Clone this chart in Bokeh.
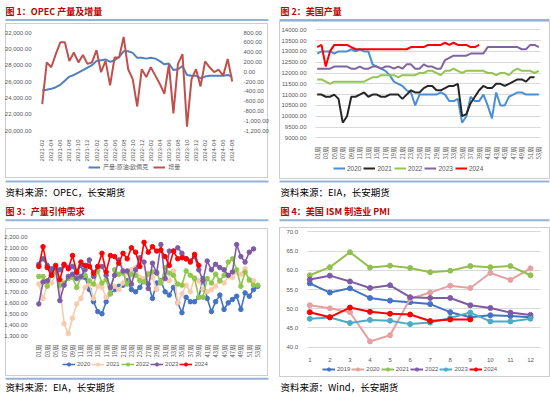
import math
from bokeh.plotting import figure
from bokeh.models import (Range1d, LinearAxis, FixedTicker, NumeralTickFormatter,
                          Label, BoxAnnotation, Legend, LegendItem, Grid)
from bokeh.layouts import column, row
from bokeh.embed import file_html
from bokeh.resources import INLINE

# ------------------------------------------------------------------ data
# Chart 1: OPEC production (left axis) and monthly change (right axis)
months = [f"{y}-{m:02d}" for y in (2021, 2022, 2023, 2024) for m in range(1, 13)][1:44]
opec_prod = [24900, 25000, 25100, 25300, 25600, 26100, 26600, 26800, 27100, 27400,
             27700, 28000, 28500, 28600, 28700, 28400, 28600, 29000, 29700, 29700,
             29500, 28900, 28900, 28800, 28900, 28800, 28500, 28100, 28200, 27400,
             27500, 27900, 26800, 26700, 26700, 26400, 26600, 26700, 26700, 26700,
             26700, 26800, 26600]
opec_inc = [-660, 190, 90, 360, 600, 600, 220, 390, 190, 340,
            160, 190, 440, -10, 220, -280, 290, 290, 710, 50,
            -150, -710, 50, -110, 90, -80, -250, -450, 150, -850,
            160, 360, -1120, -150, 50, -300, 210, 90, -10, 40,
            -80, 260, -200]

# Chart 2: US crude production by week
week_ticks = list(range(1, 54, 2))
week_labels = [f"{w:02d}周" for w in week_ticks]
us_years = ["2020", "2021", "2022", "2023", "2024"]
us_2020 = [12900, 13000, 13000, 13000, 12900, 13000, 13000, 13000, 13100, 13000,
           13100, 13000, 13000, 12400, 12300, 12200, 12100, 11900, 11600, 11500,
           11400, 11200, 11100, 10500, 11000, 11000, 11000, 11000, 11000, 11100,
           11000, 10700, 10700, 10800, 9700, 10000, 10900, 10700, 10700, 11000,
           10500, 9900, 11100, 10500, 10500, 10900, 11000, 11100, 11100, 11000,
           11000, 11000, 11000]
us_2021 = [11000, 11000, 10900, 10900, 11000, 10800, 9700, 10000, 10900, 10900,
           11000, 11100, 10900, 11000, 11000, 10900, 10900, 11000, 11000, 11000,
           10800, 11000, 11200, 11100, 11100, 11300, 11400, 11400, 11200, 11200,
           11300, 11400, 11400, 11500, 10000, 10100, 10600, 10900, 11200, 11400,
           11300, 11300, 11500, 11500, 11400, 11500, 11600, 11700, 11700, 11600,
           11800, 11800]
us_2022 = [11700, 11700, 11600, 11500, 11600, 11600, 11600, 11600, 11600, 11600,
           11600, 11600, 11700, 11800, 11800, 11900, 11900, 11900, 11900, 11800,
           11900, 11900, 11900, 11900, 12000, 12000, 12100, 12100, 12000, 11900,
           12100, 12100, 12200, 12100, 12000, 12100, 12100, 12100, 12100, 12100,
           12000, 12000, 11900, 12000, 12000, 11900, 12100, 12200, 12100, 12100,
           12100, 12000, 12100]
us_2023 = [12200, 12200, 12200, 12200, 12300, 12300, 12300, 12300, 12200, 12200,
           12300, 12200, 12200, 12300, 12300, 12200, 12300, 12300, 12200, 12300,
           12200, 12400, 12400, 12200, 12200, 12400, 12300, 12300, 12200, 12200,
           12600, 12700, 12800, 12800, 12800, 12800, 12900, 12900, 12900, 12900,
           13200, 13200, 13200, 13200, 13200, 13200, 13200, 13200, 13100, 13100,
           13300, 13300, 13200]
us_2024 = [13200, 13300, 12300, 13000, 13300, 13300, 13300, 13300, 13200, 13100,
           13100, 13100, 13100, 13100, 13100, 13100, 13100, 13100, 13100, 13100,
           13100, 13100, 13200, 13200, 13200, 13200, 13300, 13300, 13300, 13300,
           13400, 13300, 13400, 13300, 13300, 13300, 13200, 13200, 13300]

# Chart 3: implied demand by week
dm_2020 = [1950, 2000, 1940, 1910, 1880, 1900, 1940, 1920, 1930, 1870,
           1940, 1830, 1720, 1610, 1520, 1500, 1610, 1690, 1720, 1750,
           1760, 1800, 1720, 1700, 1740, 1810, 1770, 1640, 1780, 1800,
           1700, 1670, 1740, 1600, 1510, 1650, 1610, 1610, 1650, 1820,
           1640, 1520, 1610, 1670, 1540, 1600, 1630, 1660, 1540, 1690,
           1660, 1720, 1750]
dm_2021 = [1770, 1640, 1760, 1780, 1860, 1750, 1410, 1320, 1460, 1590,
           1640, 1740, 1770, 1640, 1750, 1740, 1650, 1720, 1750, 1720,
           1780, 1880, 1900, 1920, 1830, 1820, 1870, 1830, 1720, 1790,
           1830, 1800, 1890, 1600, 1680, 1760, 1700, 1830, 1800, 1720,
           1700, 1720, 1750, 1800, 1780, 1840, 1830, 1880, 1860, 1910,
           1800, 1800]
dm_2022 = [1840, 1840, 1750, 1850, 1880, 1760, 1780, 1820, 1830, 1740,
           1830, 1850, 1800, 1770, 1890, 1780, 1810, 1680, 1900, 1860,
           1870, 1770, 1860, 1850, 1800, 1790, 1860, 1880, 1880, 1780,
           1920, 1870, 1850, 1770, 1760, 1890, 1850, 1820, 1650, 1650,
           1820, 1780, 1860, 1800, 1850, 1970, 2000, 1900, 1750, 1880,
           1810, 1760, 1760]
dm_2023 = [1590, 1790, 1800, 1870, 1920, 1620, 1760, 1840, 1860, 1820,
           1840, 1900, 1990, 1840, 1930, 1930, 1850, 1740, 1850, 1990,
           1890, 1890, 1770, 1900, 2010, 1970, 1730, 1960, 1870, 2130,
           1820, 2070, 2070, 2100, 2050, 2000, 1980, 2020, 1900, 1800,
           1980, 1900, 1950, 1920, 1900, 1850, 1880, 2130, 2020, 1970,
           2060, 2090]
dm_2024 = [1930, 2110, 1920, 1850, 1940, 1810, 1950, 1910, 2030, 1880,
           1970, 1940, 1930, 1870, 1930, 2050, 1880, 2030, 2020, 1960,
           2050, 2000, 2100, 2060, 1930, 2150, 2060, 2110, 2070, 2080,
           2020, 1940, 2070, 2000, 2010, 2000, 1970, 2040, 1940]

# Chart 4: US ISM manufacturing PMI by month
pmi_months = list(range(1, 13))
pmi_2019 = [56.6, 54.2, 55.3, 52.8, 52.1, 51.7, 51.2, 49.1, 47.8, 48.3, 48.1, 47.8]
pmi_2020 = [50.9, 50.1, 49.1, 41.5, 43.1, 52.6, 54.2, 56.0, 55.4, 59.3, 57.5, 60.5]
pmi_2021 = [58.7, 60.8, 64.7, 60.7, 61.2, 60.6, 59.5, 59.9, 61.1, 60.8, 61.1, 58.7]
pmi_2022 = [57.6, 58.6, 57.1, 55.4, 56.1, 53.0, 52.8, 52.8, 50.9, 50.2, 49.0, 48.4]
pmi_2023 = [47.4, 47.7, 46.3, 47.1, 46.9, 46.0, 46.4, 47.6, 49.0, 46.7, 46.7, 47.4]
pmi_2024 = [49.1, 47.8, 50.3, 49.2, 48.7, 48.5, 46.8, 47.2, 47.2]

# ------------------------------------------------------------------ helpers
W = 275
TICK_FONT = "Liberation Sans"
CJK = "Noto Sans CJK SC"
TICK_COLOR = "#595959"
HAS_CROSS = "cross_bounds" in Grid.properties()


def style_axis(ax, font=TICK_FONT):
    ax.axis_line_color = None
    ax.major_tick_line_color = None
    ax.minor_tick_line_color = None
    ax.major_label_text_font = font
    ax.major_label_text_font_size = "6px"
    ax.major_label_text_color = TICK_COLOR
    ax.major_label_standoff = 3


def span_range(p0, p1, total, d0, d1, invert=False):
    """Extend data range [d0, d1] (placed at pixels p0..p1) to cover 0..total px."""
    k = (p1 - p0) / (d1 - d0)
    if not invert:
        return Range1d(d0 - p0 / k, d1 + (total - p1) / k)
    return Range1d(d0 - (total - p1) / k, d1 + p0 / k)


def panel(H, area, xd, yd, grid_ticks=None):
    PL, PT, PR, PB = area
    p = figure(width=W, height=H,
               x_range=span_range(PL, PR, W, *xd),
               y_range=span_range(PT, PB, H, *yd, invert=True),
               output_backend="svg", toolbar_location=None,
               min_border=0, min_border_left=0, min_border_right=0,
               min_border_top=0, min_border_bottom=0,
               outline_line_color=None, background_fill_color="white",
               border_fill_color="white")
    p.xgrid.visible = False
    p.ygrid.visible = False
    for ax in p.axis:
        style_axis(ax)
    p.yaxis.fixed_location = xd[0]
    p.xaxis.fixed_location = yd[0]
    if grid_ticks is not None:
        if HAS_CROSS:
            p.ygrid.visible = True
            p.ygrid.grid_line_color = "#D9D9D9"
            p.ygrid.cross_bounds = xd
        else:
            n = len(grid_ticks)
            p.segment(x0=[xd[0]] * n, x1=[xd[1]] * n, y0=grid_ticks, y1=grid_ticks,
                      color="#D9D9D9", line_width=1)

    def S(x, y):
        return (x, H - y)
    return p, S, PT, PB


def screen_box(S, x0, y0, x1, y1, **kw):
    left, top = S(x0, y0)
    right, bottom = S(x1, y1)
    return BoxAnnotation(left=left, right=right, top=top, bottom=bottom,
                         left_units="screen", right_units="screen",
                         top_units="screen", bottom_units="screen", **kw)


def decorate(p, S, title, source, title_y, rule1_y, box, rule2_y, src_y, rx0, rx1):
    x, y = S(5, title_y)
    p.add_layout(Label(x=x, y=y, x_units="screen", y_units="screen", text=title,
                       text_font=CJK, text_font_style="bold", text_font_size="9px",
                       text_color="#C00000", text_baseline="middle", text_align="left"))
    for ry in (rule1_y, rule2_y):
        if ry is None:
            continue
        p.add_layout(screen_box(S, rx0, ry - 1, rx1, ry + 1, fill_color="#95B3D7",
                                fill_alpha=1, line_color=None))
    bx0, by0, bx1, by1 = box
    p.add_layout(screen_box(S, bx0, by0, bx1, by1, fill_alpha=0,
                            line_color="#595959", line_width=1))
    x, y = S(5, src_y)
    p.add_layout(Label(x=x, y=y, x_units="screen", y_units="screen", text=source,
                       text_font=CJK, text_font_size="9.5px", text_color="#000000",
                       text_baseline="middle", text_align="left"))


def add_legend(p, S, items, x_ref, yc_ref, font, glyph_w, spacing, fsize="6px", standoff=2):
    lx, ly = S(x_ref, yc_ref)
    leg = Legend(items=items, location=(lx, ly - 4), orientation="horizontal",
                 background_fill_alpha=0, border_line_alpha=0, padding=0, margin=0,
                 spacing=spacing, glyph_width=glyph_w, glyph_height=8, label_height=8,
                 label_width=1, label_standoff=standoff, label_text_font=font,
                 label_text_font_size=fsize, label_text_color=TICK_COLOR)
    p.add_layout(leg)


# ------------------------------------------------------------------ chart 1
X1 = (-0.38, 42.5)
p1, S1, PT1, PB1 = panel(198, (40, 32, 234, 130), X1, (20000, 32000))
p1.extra_y_ranges = {"inc": span_range(PT1, PB1, 198, -1200, 800, invert=True)}
fmt2 = NumeralTickFormatter(format="0,0.00")
p1.yaxis.ticker = FixedTicker(ticks=list(range(20000, 32001, 2000)))
p1.yaxis.formatter = fmt2
rax = LinearAxis(y_range_name="inc", ticker=FixedTicker(ticks=list(range(-1200, 801, 200))),
                 formatter=fmt2, fixed_location=X1[1])
style_axis(rax)
p1.add_layout(rax, "right")
mt = list(range(0, 43, 2))
p1.xaxis.ticker = FixedTicker(ticks=mt)
p1.xaxis.major_label_overrides = {i: months[i] for i in mt}
p1.xaxis.major_label_orientation = math.pi / 2
idx = list(range(len(months)))
r1a = p1.line(idx, opec_prod, color="#4F81BD", line_width=2)
r1b = p1.line(idx, opec_inc, y_range_name="inc", color="#C0504D", line_width=2)
decorate(p1, S1, "图 1：OPEC 产量及增量", "资料来源：OPEC，长安期货",
         10.5, 19.5, (5, 23, 267, 177), 181, 191, 5, 268)
add_legend(p1, S1, [LegendItem(label="产量:原油:欧佩克", renderers=[r1a]),
                    LegendItem(label="增量", renderers=[r1b])], 88, 167, CJK, 12, 5,
           standoff=3)

# ------------------------------------------------------------------ chart 2
us_ticks = list(range(9000, 14001, 500))
p2, S2, _, _ = panel(198, (40, 29.3, 265, 137.3), (0.6, 53.4), (9000, 14000), grid_ticks=us_ticks)
p2.yaxis.ticker = FixedTicker(ticks=us_ticks)
p2.yaxis.formatter = NumeralTickFormatter(format="0.00")
p2.xaxis.ticker = FixedTicker(ticks=week_ticks)
p2.xaxis.major_label_overrides = dict(zip(week_ticks, week_labels))
p2.xaxis.major_label_orientation = math.pi / 2
p2.xaxis.major_label_text_font = CJK
us_colors = ["#4A8FD4", "#262626", "#92C553", "#8064A2", "#FF0000"]
items2 = []
for name, ser, col in zip(us_years, [us_2020, us_2021, us_2022, us_2023, us_2024], us_colors):
    r = p2.line(list(range(1, len(ser) + 1)), ser, color=col, line_width=2)
    items2.append(LegendItem(label=name, renderers=[r]))
decorate(p2, S2, "图 2：美国产量", "资料来源：EIA，长安期货",
         11, 19.5, (4, 21, 274, 178), 181, 191, 4, 274)
add_legend(p2, S2, items2, 58, 168, TICK_FONT, 12, 2, fsize="6.5px")

# ------------------------------------------------------------------ chart 3
p3, S3, _, _ = panel(199, (36, 38.3, 261, 137.3), (0.45, 53.9), (1300, 2200))
p3.yaxis.ticker = FixedTicker(ticks=list(range(1300, 2201, 100)))
p3.yaxis.formatter = fmt2
p3.xaxis.ticker = FixedTicker(ticks=week_ticks)
p3.xaxis.major_label_overrides = dict(zip(week_ticks, week_labels))
p3.xaxis.major_label_orientation = math.pi / 2
p3.xaxis.major_label_text_font = CJK
dm_colors = ["#4472C4", "#F8CBAD", "#8FC74A", "#7E5BA6", "#FF0000"]
items3 = []
for name, ser, col in zip(us_years, [dm_2020, dm_2021, dm_2022, dm_2023, dm_2024], dm_colors):
    xs = list(range(1, len(ser) + 1))
    r = p3.line(xs, ser, color=col, line_width=1.6)
    m = p3.scatter(xs, ser, size=4.5, color=col, marker="circle")
    items3.append(LegendItem(label=name, renderers=[r, m]))
decorate(p3, S3, "图 3：产量引伸需求", "资料来源：EIA，长安期货",
         12.5, 21.7, (5, 30, 267, 177), 180.3, 188.5, 5, 268)
add_legend(p3, S3, items3, 62, 165.7, TICK_FONT, 13, 1)

# ------------------------------------------------------------------ chart 4
pmi_ticks = list(range(40, 71, 5))
p4, S4, _, _ = panel(199, (31.7, 33.3, 265, 148.7), (0.87, 12.5), (40, 70), grid_ticks=pmi_ticks)
p4.yaxis.ticker = FixedTicker(ticks=pmi_ticks)
p4.yaxis.formatter = NumeralTickFormatter(format="0.0")
p4.xaxis.ticker = FixedTicker(ticks=pmi_months)
p4.xaxis.major_label_standoff = 5
pmi_years = ["2019", "2020", "2021", "2022", "2023", "2024"]
pmi_colors = ["#4472C4", "#E6A0A0", "#92C050", "#7E5BA6", "#4BACC6", "#FF0000"]
items4 = []
for name, ser, col in zip(pmi_years, [pmi_2019, pmi_2020, pmi_2021, pmi_2022, pmi_2023, pmi_2024], pmi_colors):
    xs = pmi_months[:len(ser)]
    r = p4.line(xs, ser, color=col, line_width=2)
    m = p4.scatter(xs, ser, size=5, color=col, marker="circle")
    items4.append(LegendItem(label=name, renderers=[r, m]))
decorate(p4, S4, "图 4：美国 ISM 制造业 PMI", "资料来源：Wind，长安期货",
         13, 21.7, (4, 29, 274, 178), None, 188, 4, 274)
add_legend(p4, S4, items4, 47, 171, TICK_FONT, 13, 1)

layout = column(row(p1, p2), row(p3, p4))
open("out.html", "w").write(file_html(layout, INLINE))
